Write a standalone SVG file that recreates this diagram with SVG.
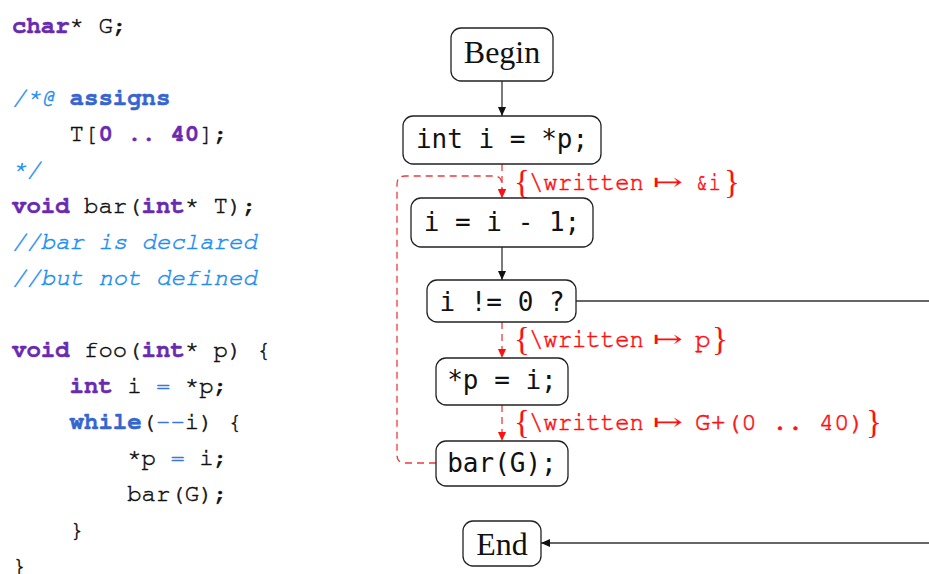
<svg xmlns="http://www.w3.org/2000/svg" width="929" height="574" viewBox="0 0 929 574">
  <style>
    .code text { font-family: "Nimbus Mono PS", "FreeMono", "Liberation Mono", "Courier New", monospace; font-size: 24px; fill: #111; stroke: #111; stroke-width: 0.5; white-space: pre; }
    .kw { font-weight: bold; fill: #6a2ab0; stroke: #6a2ab0; }
    .kb { font-weight: bold; fill: #3566d0; stroke: #3566d0; }
    .op { fill: #3a78dc; stroke: #3a78dc; }
    .cm { font-style: italic; fill: #1e8ef0; stroke: #1e8ef0; }
    .box { fill: #fff; stroke: #222; stroke-width: 1.3; }
    .stmt { font-family: "DejaVu Sans Mono", monospace; font-size: 26px; fill: #111; text-anchor: middle; white-space: pre; }
    .term { font-family: "Liberation Serif", "Times New Roman", serif; font-size: 32px; fill: #111; text-anchor: middle; }
    .edge { fill: none; stroke: #333; stroke-width: 1.3; }
    .dash { fill: none; stroke: #f03a3a; stroke-width: 1.3; stroke-dasharray: 7 5; }
    .ann { font-family: "Nimbus Mono PS", "FreeMono", "Liberation Mono", "Courier New", monospace; font-size: 26px; fill: #ff1010; stroke: #ff1010; stroke-width: 0.55; white-space: pre; }
    .brace { font-family: "Liberation Serif", serif; font-size: 33px; fill: #ff1010; }
    .maps { font-family: "DejaVu Serif", "DejaVu Sans", serif; font-size: 24px; fill: #ff1010; }
  </style>
  <defs>
    <marker id="arrowBlack" markerUnits="userSpaceOnUse" markerWidth="10" markerHeight="8" refX="9" refY="4" orient="auto">
      <path d="M0,0 L9,4 L0,8 z" fill="#111"/>
    </marker>
    <marker id="arrowRed" markerUnits="userSpaceOnUse" markerWidth="10" markerHeight="8" refX="9" refY="4" orient="auto">
      <path d="M0,0 L9,4 L0,8 z" fill="#ff1010"/>
    </marker>
  </defs>
  <rect width="929" height="574" fill="#fff"/>

  <!-- source listing -->
  <g id="source" class="code">
    <text x="12" y="33"><tspan class="kw">char</tspan>* G;</text>
    <text x="12" y="105"><tspan class="cm">/*@</tspan> <tspan class="kb">assigns</tspan></text>
    <text x="12" y="141">    T[<tspan class="kw">0</tspan> <tspan class="kw">..</tspan> <tspan class="kw">40</tspan>];</text>
    <text x="12" y="177"><tspan class="cm">*/</tspan></text>
    <text x="12" y="213"><tspan class="kw">void</tspan> bar(<tspan class="kw">int</tspan>* T);</text>
    <text x="12" y="249"><tspan class="cm">//bar is declared</tspan></text>
    <text x="12" y="285"><tspan class="cm">//but not defined</tspan></text>
    <text x="12" y="357"><tspan class="kw">void</tspan> foo(<tspan class="kw">int</tspan>* p) {</text>
    <text x="12" y="393">    <tspan class="kw">int</tspan> i <tspan class="op">=</tspan> *p;</text>
    <text x="12" y="429">    <tspan class="kb">while</tspan>(<tspan class="op">--</tspan>i) {</text>
    <text x="12" y="465">        *p <tspan class="op">=</tspan> i;</text>
    <text x="12" y="501">        bar(G);</text>
    <text x="12" y="537">    }</text>
    <text x="12" y="573">}</text>
  </g>

  <!-- connectors -->
  <g id="connectors">
    <path class="edge" d="M502,81 V116" marker-end="url(#arrowBlack)"/>
    <path class="dash" d="M502,164 V198" marker-end="url(#arrowRed)"/>
    <path class="edge" d="M502,247 V280" marker-end="url(#arrowBlack)"/>
    <path class="dash" d="M502,322 V358" marker-end="url(#arrowRed)"/>
    <path class="dash" d="M502,405 V441" marker-end="url(#arrowRed)"/>
    <path class="dash" d="M436,463 H405 Q397,463 397,455 V184 Q397,176 405,176 H494 Q502,176 502,185 V198" marker-end="url(#arrowRed)"/>
    <path class="edge" d="M576,301 H929"/>
    <path class="edge" d="M929,543 H541" marker-end="url(#arrowBlack)"/>
  </g>

  <!-- annotations on dashed edges -->
  <g id="annotations">
    <text class="brace" x="514" y="193">{</text>
    <text class="ann" x="529" y="190" textLength="115" lengthAdjust="spacingAndGlyphs">\written</text>
    <text class="maps" x="653" y="190" textLength="30" lengthAdjust="spacingAndGlyphs">↦</text>
    <text class="ann" x="696" y="190" textLength="25" lengthAdjust="spacingAndGlyphs">&amp;i</text>
    <text class="brace" x="724" y="193">}</text>

    <text class="brace" x="514" y="350">{</text>
    <text class="ann" x="529" y="347" textLength="115" lengthAdjust="spacingAndGlyphs">\written</text>
    <text class="maps" x="653" y="347" textLength="30" lengthAdjust="spacingAndGlyphs">↦</text>
    <text class="ann" x="695" y="347">p</text>
    <text class="brace" x="712" y="350">}</text>

    <text class="brace" x="514" y="433">{</text>
    <text class="ann" x="529" y="430" textLength="115" lengthAdjust="spacingAndGlyphs">\written</text>
    <text class="maps" x="653" y="430" textLength="30" lengthAdjust="spacingAndGlyphs">↦</text>
    <text class="ann" x="695" y="430" textLength="170" lengthAdjust="spacingAndGlyphs">G+(0 .. 40)</text>
    <text class="brace" x="866" y="433">}</text>
  </g>

  <!-- flow nodes -->
  <g id="node-begin">
    <rect class="box" x="451" y="28" width="102" height="53" rx="10"/>
    <text class="term" x="502" y="63">Begin</text>
  </g>
  <g id="node-init">
    <rect class="box" x="403" y="116" width="198" height="48" rx="10"/>
    <text class="stmt" x="502" y="148">int i = *p;</text>
  </g>
  <g id="node-dec">
    <rect class="box" x="411" y="198" width="182" height="49" rx="10"/>
    <text class="stmt" x="502" y="231">i = i - 1;</text>
  </g>
  <g id="node-test">
    <rect class="box" x="427" y="280" width="149" height="42" rx="10"/>
    <text class="stmt" x="502" y="311">i != 0 ?</text>
  </g>
  <g id="node-store">
    <rect class="box" x="436" y="358" width="132" height="47" rx="10"/>
    <text class="stmt" x="502" y="389">*p = i;</text>
  </g>
  <g id="node-call">
    <rect class="box" x="436" y="441" width="132" height="45" rx="10"/>
    <text class="stmt" x="502" y="472">bar(G);</text>
  </g>
  <g id="node-end">
    <rect class="box" x="463" y="521" width="78" height="45" rx="10"/>
    <text class="term" x="502" y="555">End</text>
  </g>
</svg>
